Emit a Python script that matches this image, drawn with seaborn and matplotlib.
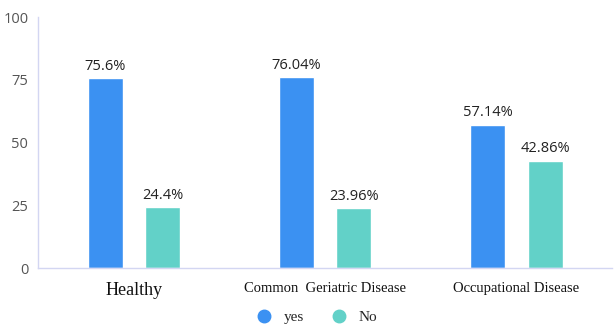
import pandas as pd
import matplotlib.pyplot as plt
import seaborn as sns
from matplotlib.lines import Line2D

categories = ["Healthy", "Common  Geriatric Disease", "Occupational Disease"]
yes_values = [75.6, 76.04, 57.14]
no_values = [24.4, 23.96, 42.86]
yes_labels = ["75.6%", "76.04%", "57.14%"]
no_labels = ["24.4%", "23.96%", "42.86%"]

df = pd.DataFrame({
    "category": categories * 2,
    "value": yes_values + no_values,
    "answer": ["yes"] * 3 + ["No"] * 3,
})

sns.set_style("white")
palette = {"yes": "#3b91f2", "No": "#62d1c8"}

fig = plt.figure(figsize=(6.14, 3.27), dpi=100)
ax = fig.add_axes([0.062, 0.18, 0.935, 0.768])
sns.barplot(data=df, x="category", y="value", hue="answer", palette=palette,
            width=0.6, gap=0.39, saturation=1, legend=False, ax=ax)

# percentage labels above bars
for cont, labels in zip(ax.containers, [yes_labels, no_labels]):
    ax.bar_label(cont, labels=labels, padding=3, fontsize=10.5, color="#222222",
                 family="Open Sans", fontweight="medium")

ax.set_ylim(0, 100)
ax.set_yticks([0, 25, 50, 75, 100])
ax.set_xlim(-0.5, 2.5)
ax.set_xlabel("")
ax.set_ylabel("")
ax.tick_params(axis="y", length=0, labelsize=10.5, labelcolor="#555555", pad=7)
ax.tick_params(axis="x", length=0, pad=10)
for lab in ax.get_yticklabels():
    lab.set_family("Open Sans")
for i, lab in enumerate(ax.get_xticklabels()):
    lab.set_family("Liberation Serif")
    lab.set_fontsize(13 if i == 0 else 10.5)
    lab.set_color("#111111")

for s in ["top", "right"]:
    ax.spines[s].set_visible(False)
for s in ["left", "bottom"]:
    ax.spines[s].set_color("#d3d6f2")
    ax.spines[s].set_linewidth(1)

handles = [Line2D([], [], marker="o", ls="", markersize=9, color=palette[k]) for k in ["yes", "No"]]
fig.legend(handles, ["yes", "No"], loc="center", bbox_to_anchor=(0.51, 0.03),
           ncol=2, frameon=False, handletextpad=0.3, columnspacing=1.3,
           prop={"family": "Liberation Serif", "size": 11})

fig.savefig("out.png", dpi=100)
